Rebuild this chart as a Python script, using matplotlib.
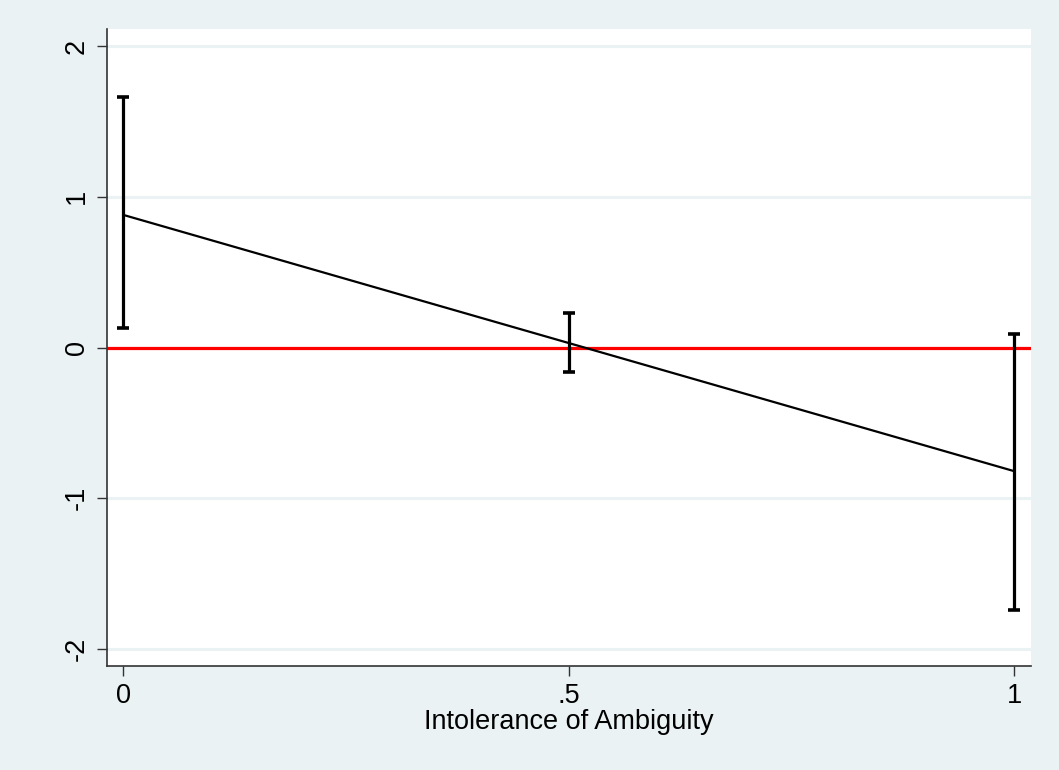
import numpy as np
import matplotlib
matplotlib.use("Agg")
import matplotlib.pyplot as plt

plt.rcParams['font.family'] = ['Liberation Sans', 'DejaVu Sans']
plt.rcParams['axes.unicode_minus'] = False

# moderator values and marginal effects with CI
x_vals = [0, 0.5, 1]
effect = [0.88, 0.03, -0.82]
ci_low = [0.13, -0.16, -1.74]
ci_high = [1.66, 0.23, 0.09]

y_ticks = [-2, -1, 0, 1, 2]
x_ticks = [0, 0.5, 1]
x_ticklabels = ["0", ".5", "1"]

bg = "#EAF2F3"

fig = plt.figure(figsize=(10.59, 7.7), dpi=100, facecolor=bg)
ax = fig.add_axes([0.101, 0.135, 0.8726, 0.8273])
ax.set_facecolor("white")

for yt in y_ticks:
    ax.axhline(yt, color=bg, lw=2.2, zorder=0)

ax.axhline(0, color="#FF0000", lw=2.3, zorder=2)
ax.plot(x_vals, effect, color="black", lw=1.6, zorder=3)

eff = np.array(effect)
yerr = [eff - np.array(ci_low), np.array(ci_high) - eff]
ax.errorbar(x_vals, effect, yerr=yerr, fmt="none", ecolor="black",
            elinewidth=2.3, capsize=4, capthick=2.6, zorder=4)

ax.set_xlim(-0.0183, 1.019)
ax.set_ylim(-2.113, 2.113)
ax.set_xticks(x_ticks)
ax.set_xticklabels(x_ticklabels)
ax.set_yticks(y_ticks)
ax.set_yticklabels([str(v) for v in y_ticks], rotation=90, va="center")

for s in ["top", "right"]:
    ax.spines[s].set_visible(False)
for s in ["left", "bottom"]:
    ax.spines[s].set_color("#333333")
    ax.spines[s].set_linewidth(1.2)

ax.tick_params(axis="both", length=7.5, width=1, color="#333333",
               labelsize=19.5, pad=5)
ax.set_xlabel("Intolerance of Ambiguity", fontsize=19.5, labelpad=0)

fig.savefig("out.png", dpi=100, facecolor=bg)
